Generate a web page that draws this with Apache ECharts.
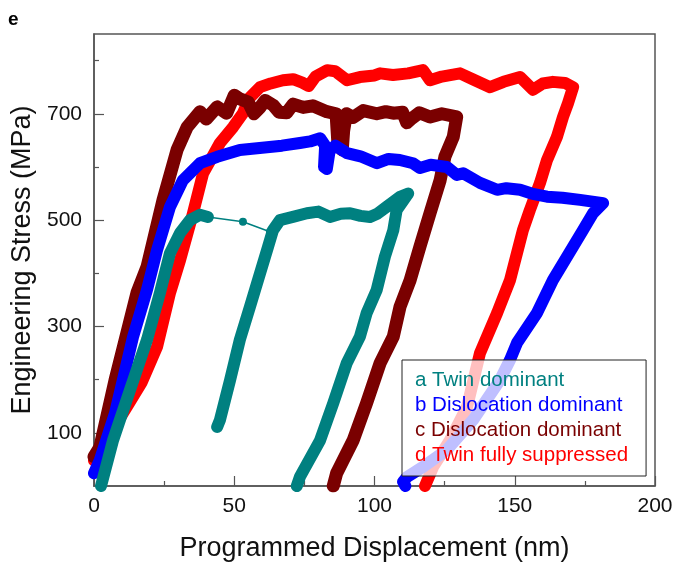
<!DOCTYPE html>
<html>
<head>
<meta charset="utf-8">
<script src="https://cdn.jsdelivr.net/npm/echarts@6/dist/echarts.min.js"></script>
<style>
html, body { margin: 0; padding: 0; background: #fff; }
#main { width: 675px; height: 563px; }
</style>
</head>
<body>
<div id="main"></div>
<script>
// curve names (legend)
var curveNames = ['a Twin dominant', 'b Dislocation dominant', 'c Dislocation dominant', 'd Twin fully suppressed'];

// a: twin dominant (teal) - loading, burst, reload, plateau, unload
var curveA1 = [[2.5, 0], [6.8, 86], [12.8, 180], [18.9, 275], [23.5, 363], [27.1, 438], [30.7, 476],
    [34.2, 500], [37.8, 510], [40.6, 506]];
var burstA = [[40.6, 506], [53.1, 497], [62.7, 478]];
var curveA2 = [[43.9, 111], [44.9, 124], [48.5, 199], [52, 275], [55.6, 337], [59.2, 400], [62, 449],
    [63.8, 481], [66.3, 500], [70.9, 506], [75.9, 513], [80, 516], [84.1, 506], [88, 512], [91.3, 513],
    [95, 508], [98.4, 506], [101, 512], [104.3, 525], [109.1, 544], [112, 550], [107.9, 519],
    [106.7, 481], [103.7, 431], [100.8, 369], [97.2, 325], [94.8, 281], [90.1, 231], [85.3, 156],
    [80.6, 86], [73.4, 17], [72.3, 0]];

// b: dislocation dominant (blue)
var curveB = [[0, 24], [2.1, 49], [7.5, 137], [13.9, 280], [18.9, 369], [22.5, 444], [27.1, 525],
    [31.7, 575], [37.8, 607], [43.9, 619], [52, 632], [61.7, 637], [67, 640], [73.4, 645], [77, 648],
    [80.6, 654], [82.4, 640], [82, 600], [83, 596], [84, 630], [86, 640], [90.2, 626], [95, 620],
    [100.9, 607], [105, 615], [109, 613], [113.7, 607], [116.2, 598], [120, 604], [125.8, 600],
    [129.3, 585], [131.6, 588], [137.6, 570], [143.7, 557], [147, 560], [151.9, 557], [156, 550],
    [161.5, 544], [167, 542], [173.3, 538], [181.5, 532], [177.9, 513], [174.3, 481], [163.6, 387],
    [157.9, 325], [150.8, 269], [148.3, 237], [144.7, 199], [135.1, 124], [125.8, 68], [117.3, 36],
    [111.6, 17], [110.2, 8], [111, 0]];

// c: dislocation dominant (dark red)
var curveC = [[0, 55], [2.1, 73], [7.5, 199], [15.3, 363], [18.9, 412], [24.6, 538], [29.6, 632],
    [33.2, 675], [37.8, 704], [40, 690], [43.9, 713], [47.3, 701], [50, 735], [52, 728], [55, 722],
    [57, 700], [59.2, 712], [61, 725], [63.9, 716], [66, 703], [68.7, 702], [71, 718], [74.6, 712],
    [78, 715], [83, 704], [86.3, 700], [87, 640], [88.5, 632], [89, 668], [90, 700], [92.4, 693],
    [96, 706], [100.8, 700], [104, 704], [106.7, 701], [110, 703], [111.5, 683], [113, 690],
    [116, 702], [119.8, 694], [124, 700], [129.3, 694], [128.1, 657], [125.1, 619], [123.4, 575],
    [119.8, 513], [116.2, 450], [112.7, 387], [109.1, 337], [106.7, 281], [102, 231], [97.2, 156],
    [92.4, 86], [86.5, 24], [85.3, 0]];

// d: twin fully suppressed (red)
var curveD = [[0, 48], [13, 160], [17, 195], [22.5, 262], [27.1, 363], [30.7, 425], [35.3, 513],
    [38.9, 588], [44.9, 645], [49.6, 675], [53.1, 701], [55.5, 730], [59.2, 750], [63, 757],
    [67.4, 763], [71, 765], [74.5, 758], [76.5, 752], [79, 770], [83.1, 782], [86, 780], [90.2, 763],
    [94.8, 769], [100, 772], [102, 776], [106.6, 773], [112, 776], [117.3, 782], [119.8, 763],
    [124, 770], [130.5, 776], [135, 765], [141.2, 750], [146, 760], [151.9, 769], [156.5, 745],
    [160, 757], [163.6, 760], [168, 758], [170.8, 750], [169, 720], [167.2, 694], [165, 656],
    [161.5, 613], [159, 570], [155.4, 519], [152.9, 481], [148.3, 387], [143.7, 325], [137.6, 250],
    [133, 149], [126.9, 86], [120.9, 36], [118, 0]];

// axis ticks
var xTicks = [0, 50, 100, 150, 200];
var yMajor = [100, 300, 500, 700];
var yMinor = [200, 400, 600, 800];

var myChart = echarts.init(document.getElementById('main'), null, { renderer: 'canvas' });
var FONT = 'Liberation Sans, Arial, sans-serif';
var axisColor = '#555';

function band(name, data, color, width) {
    return {
        name: name,
        type: 'line',
        data: data,
        symbol: 'none',
        silent: true,
        itemStyle: { color: color },
        lineStyle: { color: color, width: width, cap: 'round', join: 'round' }
    };
}

myChart.setOption({
    animation: false,
    grid: {
        left: 94, right: 20, top: 34, bottom: 77,
        outerBoundsMode: 'none',
        show: true, borderColor: axisColor, borderWidth: 1.5
    },
    graphic: [{
        type: 'text', left: 8, top: 10,
        style: { text: 'e', fontSize: 19, fontWeight: 'bold', fontFamily: FONT, fill: '#000' }
    }],
    legend: {
        orient: 'vertical',
        left: 402, top: 360,
        icon: 'rect',
        itemWidth: 0, itemHeight: 20, itemGap: 4,
        padding: [10, 18, 10, 8],
        selectedMode: false,
        backgroundColor: 'rgba(255,255,255,0.75)',
        borderColor: '#222', borderWidth: 1,
        textStyle: { fontSize: 20.5, fontFamily: FONT, lineHeight: 20 },
        data: [
            { name: curveNames[0], textStyle: { color: '#008080' } },
            { name: curveNames[1], textStyle: { color: '#0000ff' } },
            { name: curveNames[2], textStyle: { color: '#7a0000' } },
            { name: curveNames[3], textStyle: { color: '#ff0000' } }
        ]
    },
    xAxis: {
        type: 'value', min: xTicks[0], max: xTicks[xTicks.length - 1], interval: 50,
        name: 'Programmed Displacement (nm)', nameLocation: 'middle', nameGap: 49,
        nameTextStyle: { fontSize: 27, fontFamily: FONT, color: '#111' },
        axisLine: { show: true, lineStyle: { color: axisColor, width: 1.5 } },
        axisTick: { show: true, inside: true, length: 10, lineStyle: { color: axisColor, width: 1.2 } },
        minorTick: { show: true, splitNumber: 2, length: 5, lineStyle: { color: axisColor, width: 1.2 } },
        axisLabel: { fontSize: 21, fontFamily: FONT, color: '#111', margin: 10 },
        splitLine: { show: false }
    },
    yAxis: [{
        type: 'value', min: 0, max: 850, interval: 100,
        name: 'Engineering Stress (MPa)', nameLocation: 'middle', nameGap: 54,
        nameTextStyle: { fontSize: 27, fontFamily: FONT, color: '#111' },
        axisLine: { show: true, lineStyle: { color: axisColor, width: 1.5 } },
        axisTick: { show: true, inside: true, length: 10, customValues: yMajor,
            lineStyle: { color: axisColor, width: 1.2 } },
        axisLabel: { customValues: yMajor, fontSize: 21, fontFamily: FONT, color: '#111', margin: 12 },
        splitLine: { show: false }
    }, {
        type: 'value', min: 0, max: 850, interval: 100, position: 'left', offset: 0,
        axisLine: { show: false },
        axisTick: { show: true, inside: true, length: 5, customValues: yMinor,
            lineStyle: { color: axisColor, width: 1.2 } },
        axisLabel: { show: false },
        splitLine: { show: false }
    }],
    series: [
        band(curveNames[3], curveD, '#ff0000', 12),
        band(curveNames[2], curveC, '#7a0000', 13),
        band(curveNames[1], curveB, '#0000ff', 12),
        {
            name: 'a burst',
            type: 'line',
            data: burstA,
            symbol: 'circle', symbolSize: 8, showSymbol: true,
            silent: true,
            itemStyle: { color: '#008080' },
            lineStyle: { color: '#008080', width: 1.5 }
        },
        band(curveNames[0], curveA1, '#008080', 12),
        band(curveNames[0], curveA2, '#008080', 12)
    ]
});
</script>
</body>
</html>
